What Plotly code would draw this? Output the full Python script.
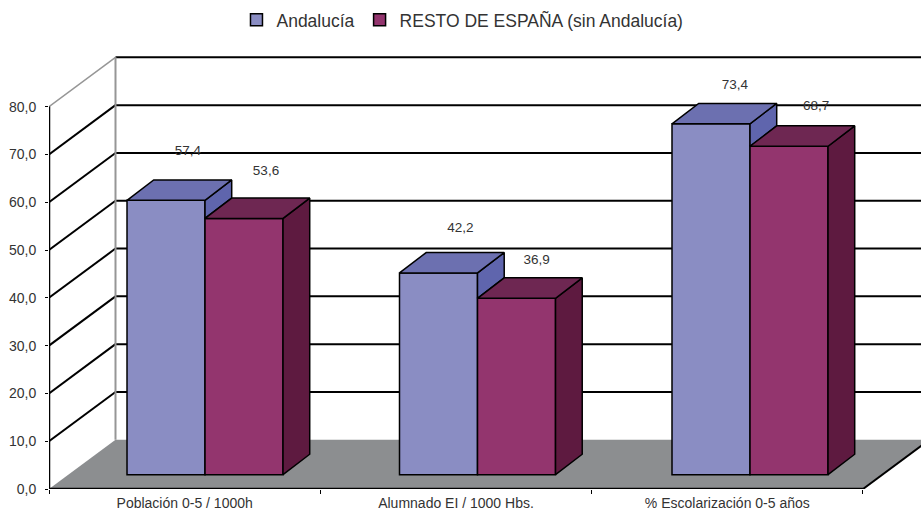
import plotly.graph_objects as go

# ---- data ----
categories = ["Población 0-5 / 1000h", "Alumnado EI / 1000 Hbs.", "% Escolarización 0-5 años"]
andalucia = [57.4, 42.2, 73.4]
resto = [53.6, 36.9, 68.7]
series_names = ["Andalucía", "RESTO DE ESPAÑA (sin Andalucía)"]
y_ticks = [0, 10, 20, 30, 40, 50, 60, 70, 80]

# ---- 3D look: oblique projection expressed in axis units ----
WALL_DX, WALL_DY = 0.2451, 10.3      # floor depth
BAR_BASE = 3.0                       # floor height of the bar fronts
BAR_DX, BAR_DY = 0.0984, 4.27        # bar depth
BAR_W = 0.2875
BAR_START, BAR_PITCH = 0.575, 1.0043
GRID = dict(color="#000000", width=2)
BAR_LINE = dict(color="#000000", width=1.5)
TXT = "#333333"
FONT = "Liberation Sans, Arial, sans-serif"

front_col = ["#8A8DC3", "#93356E"]
top_col = ["#6C70B0", "#6E2752"]
side_col = ["#5F65AD", "#5E1A40"]

x_max = 872 / 271.33
y_max = 449 / 4.78

fig = go.Figure()
series = [andalucia, resto]
centers = [BAR_START + i * BAR_PITCH for i in range(len(categories))]

# fronts
for s, vals in enumerate(series):
    fig.add_trace(go.Bar(
        x=[c + (s - 1) * BAR_W + BAR_W / 2 for c in centers], y=vals, base=BAR_BASE, width=BAR_W,
        name=series_names[s], marker=dict(color=front_col[s], line=BAR_LINE),
        hovertemplate="%{y:.1f}<extra></extra>"))


def poly(xs, ys, col):
    fig.add_trace(go.Scatter(x=xs + xs[:1], y=ys + ys[:1], mode="lines", fill="toself", fillcolor=col,
                             line=BAR_LINE, showlegend=False, hoverinfo="skip"))


# sides and tops
for i, c in enumerate(centers):
    a, r = andalucia[i] + BAR_BASE, resto[i] + BAR_BASE
    # left bar side: only the part that shows above the right bar
    poly([c, c + BAR_DX, c + BAR_DX, c], [a, a + BAR_DY, r + BAR_DY, r], side_col[0])
    # left bar top
    l = c - BAR_W
    poly([l, l + BAR_DX, c + BAR_DX, c], [a, a + BAR_DY, a + BAR_DY, a], top_col[0])
    # right bar side
    e = c + BAR_W
    poly([e, e + BAR_DX, e + BAR_DX, e], [r, r + BAR_DY, BAR_BASE + BAR_DY, BAR_BASE], side_col[1])
    # right bar top
    poly([c, c + BAR_DX, e + BAR_DX, e], [r, r + BAR_DY, r + BAR_DY, r], top_col[1])

# value labels (Excel leaves them floating above the bars)
label_dx = [[0.081, 0.081, 0.088], [0.081, 0.074, 0.1]]
label_dy = [[10.1, 9.2, 7.9], [9.7, 7.8, 8.2]]
for s, vals in enumerate(series):
    fig.add_trace(go.Scatter(
        x=[centers[i] + (s - 1) * BAR_W + BAR_W / 2 + label_dx[s][i] for i in range(3)],
        y=[v + BAR_BASE + label_dy[s][i] for i, v in enumerate(vals)],
        mode="text", text=[f"{v:.1f}".replace(".", ",") for v in vals],
        textfont=dict(family=FONT, size=13.5, color=TXT), showlegend=False, hoverinfo="skip"))

# walls, floor and gridlines sit behind the bars
shapes = [dict(type="path", layer="below", xref="x", yref="y", line=dict(width=0), fillcolor="#8C8E90",
               path=f"M0,0 L{WALL_DX},{WALL_DY} L{3 + WALL_DX},{WALL_DY} L3,0 Z")]
for v in y_ticks:
    if v == 0:
        continue
    top = v == y_ticks[-1]
    shapes.append(dict(type="line", layer="below", xref="x", yref="y", x0=0, y0=v, x1=WALL_DX, y1=v + WALL_DY,
                       line=dict(color="#969696", width=1.5) if top else GRID))
    shapes.append(dict(type="line", layer="below", xref="x", yref="y", x0=WALL_DX, y0=v + WALL_DY,
                       x1=x_max, y1=v + WALL_DY, line=GRID))
shapes += [
    dict(type="line", layer="below", xref="x", yref="y", x0=WALL_DX, y0=WALL_DY, x1=WALL_DX,
         y1=y_ticks[-1] + WALL_DY, line=dict(color="#969696", width=2)),
    dict(type="line", layer="below", xref="x", yref="y", x0=0, y0=0, x1=0, y1=y_ticks[-1],
         line=dict(color="#000000", width=2.5)),
    dict(type="line", layer="below", xref="x", yref="y", x0=0, y0=0, x1=3, y1=0,
         line=dict(color="#000000", width=2.5)),
    dict(type="line", layer="below", xref="x", yref="y", x0=3, y0=0, x1=3 + WALL_DX, y1=WALL_DY,
         line=dict(color="#000000", width=2)),
]

fig.update_layout(
    width=921, height=512, margin=dict(l=49, r=0, t=40, b=23, autoexpand=False),
    paper_bgcolor="#FFFFFF", plot_bgcolor="#FFFFFF",
    barmode="overlay", shapes=shapes, font=dict(family=FONT, color=TXT),
    showlegend=True,
    legend=dict(orientation="h", x=0.215, xanchor="left", y=1.085, yanchor="top",
                font=dict(family=FONT, size=17.5, color=TXT), bgcolor="rgba(0,0,0,0)",
                itemwidth=30, traceorder="normal"),
    xaxis=dict(range=[0, x_max], showgrid=False, zeroline=False, showline=False, automargin=False,
               tickmode="array", tickvals=[i + 0.5 for i in range(3)], ticktext=categories,
               ticks="", tickfont=dict(family=FONT, size=14, color=TXT), ticklabelstandoff=4,
               minor=dict(tickmode="array", tickvals=[0, 1, 2, 3], ticks="outside", ticklen=4,
                          tickcolor="#000000", tickwidth=1)),
    yaxis=dict(range=[0, y_max], showgrid=False, zeroline=False, showline=False, automargin=False,
               tickmode="array", tickvals=y_ticks, ticktext=[f"{v:.1f}".replace(".", ",") for v in y_ticks],
               ticks="outside", ticklen=3, tickcolor="#000000", tickwidth=1, ticklabelstandoff=6,
               tickfont=dict(family=FONT, size=14, color=TXT)),
)

fig.write_html("out.html", config={"displayModeBar": False},
               post_script="document.body.style.margin='0';")
